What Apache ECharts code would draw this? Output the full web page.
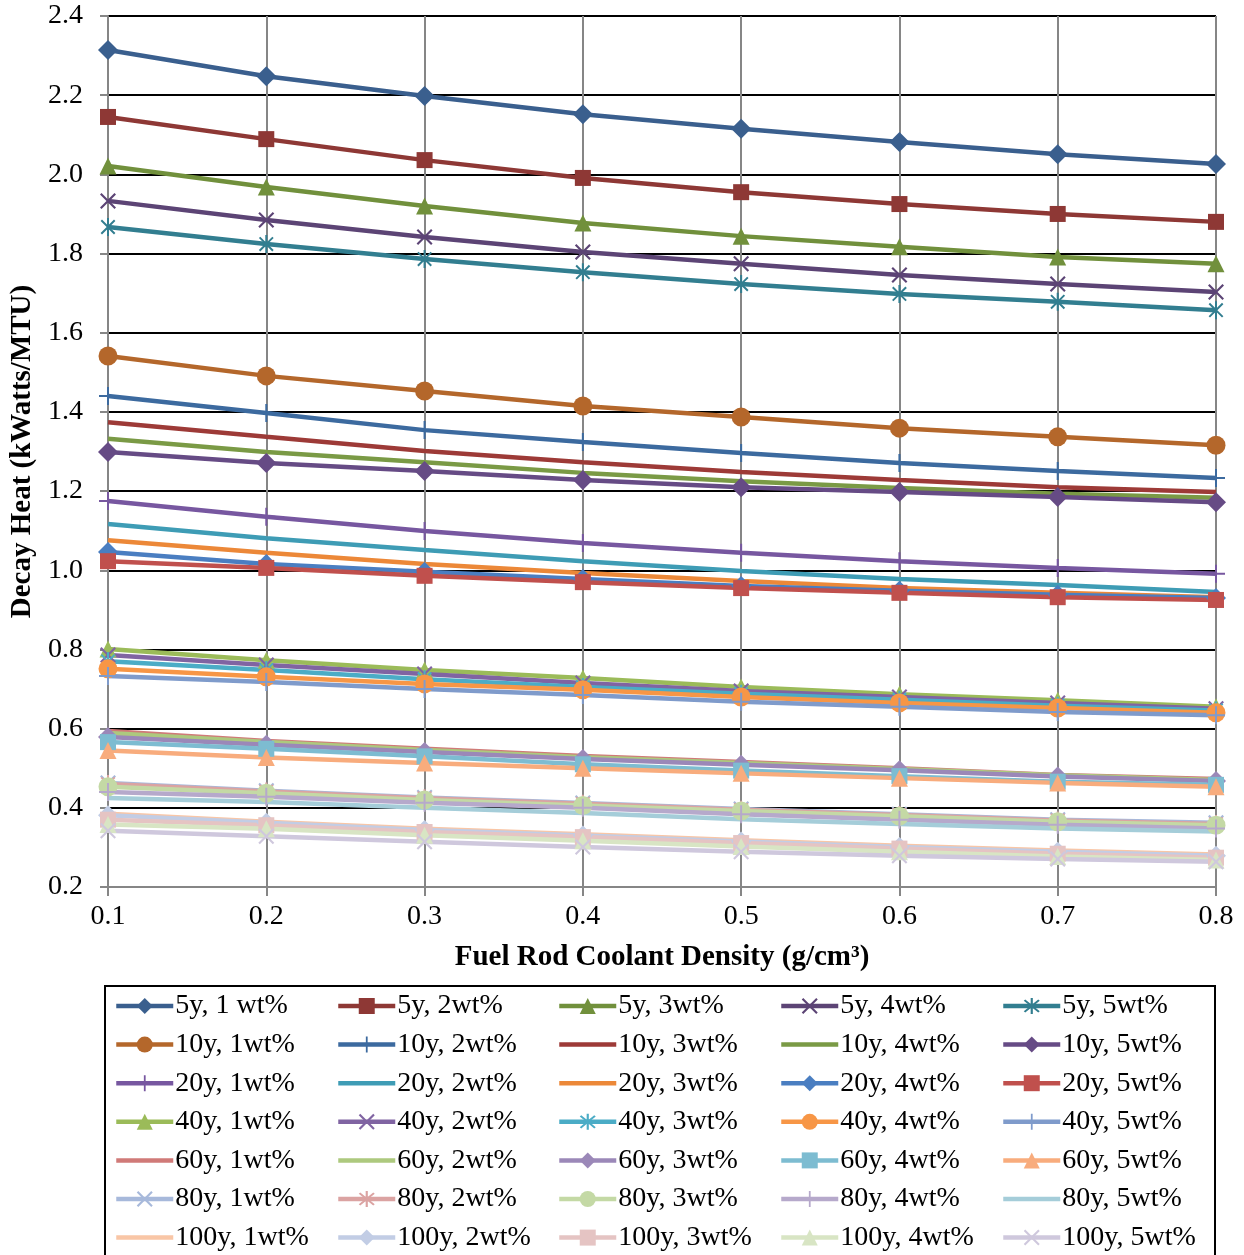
<!DOCTYPE html>
<html>
<head>
<meta charset="utf-8">
<script src="https://cdn.jsdelivr.net/npm/echarts@6/dist/echarts.min.js"></script>
<style>
  html, body { margin: 0; padding: 0; background: #fff; }
  #chart { width: 1244px; height: 1255px; }
</style>
</head>
<body>
<div id="chart"></div>
<script>
// Coolant density values on the x axis (g/cm3)
const densities = ['0.1', '0.2', '0.3', '0.4', '0.5', '0.6', '0.7', '0.8'];
const yTicks = [0.2, 2.4, 0.2]; // min, max, step

// Decay heat (kW/MTU) per cooling time and enrichment
const y5w1 = [2.314, 2.248, 2.198, 2.152, 2.115, 2.082, 2.051, 2.026];
const y5w2 = [2.145, 2.089, 2.036, 1.991, 1.955, 1.925, 1.900, 1.880];
const y5w3 = [2.021, 1.968, 1.920, 1.877, 1.844, 1.817, 1.791, 1.774];
const y5w4 = [1.933, 1.885, 1.842, 1.804, 1.774, 1.746, 1.723, 1.703];
const y5w5 = [1.867, 1.824, 1.786, 1.753, 1.723, 1.698, 1.678, 1.657];

const y10w1 = [1.541, 1.491, 1.453, 1.415, 1.387, 1.359, 1.337, 1.316];
const y10w2 = [1.440, 1.397, 1.354, 1.324, 1.296, 1.271, 1.251, 1.233];
const y10w3 = [1.374, 1.337, 1.301, 1.273, 1.248, 1.228, 1.210, 1.198];
const y10w4 = [1.332, 1.299, 1.273, 1.246, 1.225, 1.208, 1.193, 1.183];
const y10w5 = [1.299, 1.271, 1.251, 1.228, 1.210, 1.198, 1.185, 1.172];

const y20w1 = [1.175, 1.135, 1.099, 1.069, 1.044, 1.023, 1.006, 0.991];
const y20w2 = [1.117, 1.081, 1.051, 1.023, 0.998, 0.978, 0.963, 0.945];
const y20w3 = [1.076, 1.044, 1.016, 0.993, 0.973, 0.955, 0.943, 0.932];
const y20w4 = [1.046, 1.016, 0.996, 0.978, 0.960, 0.948, 0.938, 0.930];
const y20w5 = [1.023, 1.006, 0.986, 0.970, 0.955, 0.943, 0.932, 0.925];

const y40w1 = [0.801, 0.773, 0.748, 0.728, 0.705, 0.687, 0.672, 0.655];
const y40w2 = [0.786, 0.761, 0.738, 0.715, 0.695, 0.680, 0.665, 0.650];
const y40w3 = [0.770, 0.748, 0.725, 0.705, 0.688, 0.673, 0.658, 0.646];
const y40w4 = [0.751, 0.731, 0.713, 0.698, 0.680, 0.665, 0.652, 0.640];
const y40w5 = [0.733, 0.718, 0.700, 0.685, 0.668, 0.655, 0.642, 0.634];

const y60w1 = [0.594, 0.569, 0.549, 0.531, 0.516, 0.500, 0.483, 0.473];
const y60w2 = [0.589, 0.566, 0.546, 0.528, 0.513, 0.498, 0.482, 0.470];
const y60w3 = [0.579, 0.559, 0.541, 0.523, 0.509, 0.495, 0.479, 0.468];
const y60w4 = [0.566, 0.549, 0.530, 0.510, 0.494, 0.480, 0.466, 0.458];
const y60w5 = [0.545, 0.527, 0.513, 0.500, 0.487, 0.475, 0.463, 0.453];

const y80w1 = [0.463, 0.443, 0.426, 0.412, 0.397, 0.384, 0.370, 0.362];
const y80w2 = [0.460, 0.441, 0.424, 0.410, 0.395, 0.382, 0.368, 0.359];
const y80w3 = [0.453, 0.437, 0.420, 0.406, 0.392, 0.379, 0.365, 0.356];
const y80w4 = [0.440, 0.428, 0.413, 0.400, 0.384, 0.370, 0.357, 0.348];
const y80w5 = [0.425, 0.415, 0.400, 0.387, 0.371, 0.359, 0.348, 0.340];

const y100w1 = [0.385, 0.365, 0.347, 0.333, 0.318, 0.304, 0.292, 0.282];
const y100w2 = [0.381, 0.362, 0.344, 0.330, 0.315, 0.301, 0.289, 0.279];
const y100w3 = [0.370, 0.356, 0.339, 0.326, 0.311, 0.297, 0.284, 0.274];
const y100w4 = [0.358, 0.347, 0.331, 0.317, 0.302, 0.289, 0.277, 0.268];
const y100w5 = [0.342, 0.328, 0.314, 0.301, 0.289, 0.279, 0.271, 0.264];

const seriesNames = [
  '5y, 1 wt%', '5y, 2wt%', '5y, 3wt%', '5y, 4wt%', '5y, 5wt%',
  '10y, 1wt%', '10y, 2wt%', '10y, 3wt%', '10y, 4wt%', '10y, 5wt%',
  '20y, 1wt%', '20y, 2wt%', '20y, 3wt%', '20y, 4wt%', '20y, 5wt%',
  '40y, 1wt%', '40y, 2wt%', '40y, 3wt%', '40y, 4wt%', '40y, 5wt%',
  '60y, 1wt%', '60y, 2wt%', '60y, 3wt%', '60y, 4wt%', '60y, 5wt%',
  '80y, 1wt%', '80y, 2wt%', '80y, 3wt%', '80y, 4wt%', '80y, 5wt%',
  '100y, 1wt%', '100y, 2wt%', '100y, 3wt%', '100y, 4wt%', '100y, 5wt%'
];
const seriesValues = [
  y5w1, y5w2, y5w3, y5w4, y5w5,
  y10w1, y10w2, y10w3, y10w4, y10w5,
  y20w1, y20w2, y20w3, y20w4, y20w5,
  y40w1, y40w2, y40w3, y40w4, y40w5,
  y60w1, y60w2, y60w3, y60w4, y60w5,
  y80w1, y80w2, y80w3, y80w4, y80w5,
  y100w1, y100w2, y100w3, y100w4, y100w5
];

// Line colours, darkest for short cooling times, paling out towards 100y
const lineColors = [
  '#3A5F8E', '#8E3835', '#71903C', '#5C4475', '#327E90',
  '#B4672B', '#3C6A9F', '#9D3A37', '#7A9A45', '#664B85',
  '#7757A0', '#3E9CB5', '#EC8838', '#4A7EC1', '#C0504D',
  '#9BBB59', '#8064A2', '#4BACC6', '#F79646', '#7F9BCB',
  '#D07A78', '#ADC97E', '#9B88B8', '#7DBCD1', '#F8AC7D',
  '#A7B9DB', '#DBA3A2', '#C4D9A5', '#B6A9CB', '#A5CDD9',
  '#F9C6A6', '#C2CDE5', '#E5C4C3', '#D8E5C4', '#CFC8DD'
];

// Marker shapes
const PLUS = 'path://M-1,-9H1V-1H9V1H1V9H-1V1H-9V-1H-1Z';
const CROSS = 'path://M-7.4,-6L-6,-7.4L0,-1.4L6,-7.4L7.4,-6L1.4,0L7.4,6L6,7.4L0,1.4L-6,7.4L-7.4,6L-1.4,0Z';
const STAR = 'path://M-7.4,-6L-6,-7.4L0,-1.4L6,-7.4L7.4,-6L1.4,0L7.4,6L6,7.4L0,1.4L-6,7.4L-7.4,6L-1.4,0Z' +
             'M-1,-9L1,-9L1,9L-1,9Z';
const BAR = 'path://M0,0H57V4.5H0Z'; // plain line swatch for unmarked series
const markerKinds = [
  'diamond', 'rect', 'triangle', 'cross', 'star',
  'circle', 'plus', 'none', 'none', 'diamond',
  'plus', 'none', 'none', 'diamond', 'rect',
  'triangle', 'cross', 'star', 'circle', 'plus',
  'none', 'none', 'diamond', 'rect', 'triangle',
  'cross', 'star', 'circle', 'plus', 'none',
  'none', 'diamond', 'rect', 'triangle', 'cross'
];
const markerShape = { diamond: 'diamond', rect: 'rect', triangle: 'triangle', circle: 'circle',
                      plus: PLUS, cross: CROSS, star: STAR, none: 'none' };
const markerSize = { diamond: 20, rect: 16, triangle: 17, circle: 19, plus: 18, cross: 16, star: 18, none: 0 };

const FONT = '"Liberation Serif", "Times New Roman", serif';

const series = seriesNames.map((name, i) => {
  const kind = markerKinds[i];
  return {
    name: name,
    type: 'line',
    data: seriesValues[i],
    symbol: markerShape[kind],
    symbolSize: markerSize[kind],
    symbolKeepAspect: true,
    showSymbol: kind !== 'none',
    showAllSymbol: true,
    color: lineColors[i],
    lineStyle: { width: 4.5, color: lineColors[i] },
    itemStyle: { color: lineColors[i] },
    emphasis: { disabled: true },
    animation: false
  };
});

// Legend: five columns, seven rows
const colLeft = [114, 336, 557, 779, 1001];
const legends = colLeft.map((left, c) => ({
  orient: 'vertical',
  left: left,
  top: 991,
  itemWidth: 57,
  itemHeight: 20,
  itemGap: 8.6,
  lineStyle: { width: 4.5 },
  data: seriesNames
    .map((name, i) => ({ name, i }))
    .filter(d => d.i % 5 === c)
    .map(d => markerKinds[d.i] === 'none' ? { name: d.name, icon: BAR } : { name: d.name }),
  textStyle: { fontFamily: FONT, fontSize: 28, color: '#000', lineHeight: 30, padding: [0, 0, 0, -3] },
  selectedMode: false,
  padding: 0
}));

const chart = echarts.init(document.getElementById('chart'), null, { renderer: 'canvas' });
chart.setOption({
  backgroundColor: '#fff',
  animation: false,
  grid: { left: 108, right: 28, top: 16, bottom: 368 },
  xAxis: {
    type: 'category',
    data: densities,
    boundaryGap: false,
    name: 'Fuel Rod Coolant Density (g/cm\u00B3)',
    nameLocation: 'middle',
    nameGap: 56,
    nameTextStyle: { fontFamily: FONT, fontSize: 29, fontWeight: 'bold', color: '#000' },
    axisLine: { lineStyle: { color: '#868686', width: 2 } },
    axisTick: { show: true, alignWithLabel: true, length: 9, lineStyle: { color: '#868686', width: 2 } },
    axisLabel: { fontFamily: FONT, fontSize: 28, color: '#000', margin: 16 },
    splitLine: { show: true, lineStyle: { color: '#868686', width: 2 } }
  },
  yAxis: {
    type: 'value',
    min: yTicks[0],
    max: yTicks[1],
    interval: yTicks[2],
    name: 'Decay Heat (kWatts/MTU)',
    nameLocation: 'middle',
    nameGap: 69,
    nameTextStyle: { fontFamily: FONT, fontSize: 29, fontWeight: 'bold', color: '#000' },
    axisLine: { show: true, lineStyle: { color: '#868686', width: 2 } },
    axisTick: { show: true, length: 8, lineStyle: { color: '#868686', width: 2 } },
    axisLabel: { fontFamily: FONT, fontSize: 28, color: '#000', margin: 25,
                 formatter: v => v.toFixed(1) },
    splitLine: { show: true, lineStyle: { color: '#000', width: 2 } }
  },
  legend: legends,
  graphic: [{
    type: 'rect',
    shape: { x: 105, y: 986, width: 1110, height: 300 },
    style: { fill: 'none', stroke: '#000', lineWidth: 2 },
    silent: true,
    z: 100
  }],
  series: series
});
</script>
</body>
</html>
